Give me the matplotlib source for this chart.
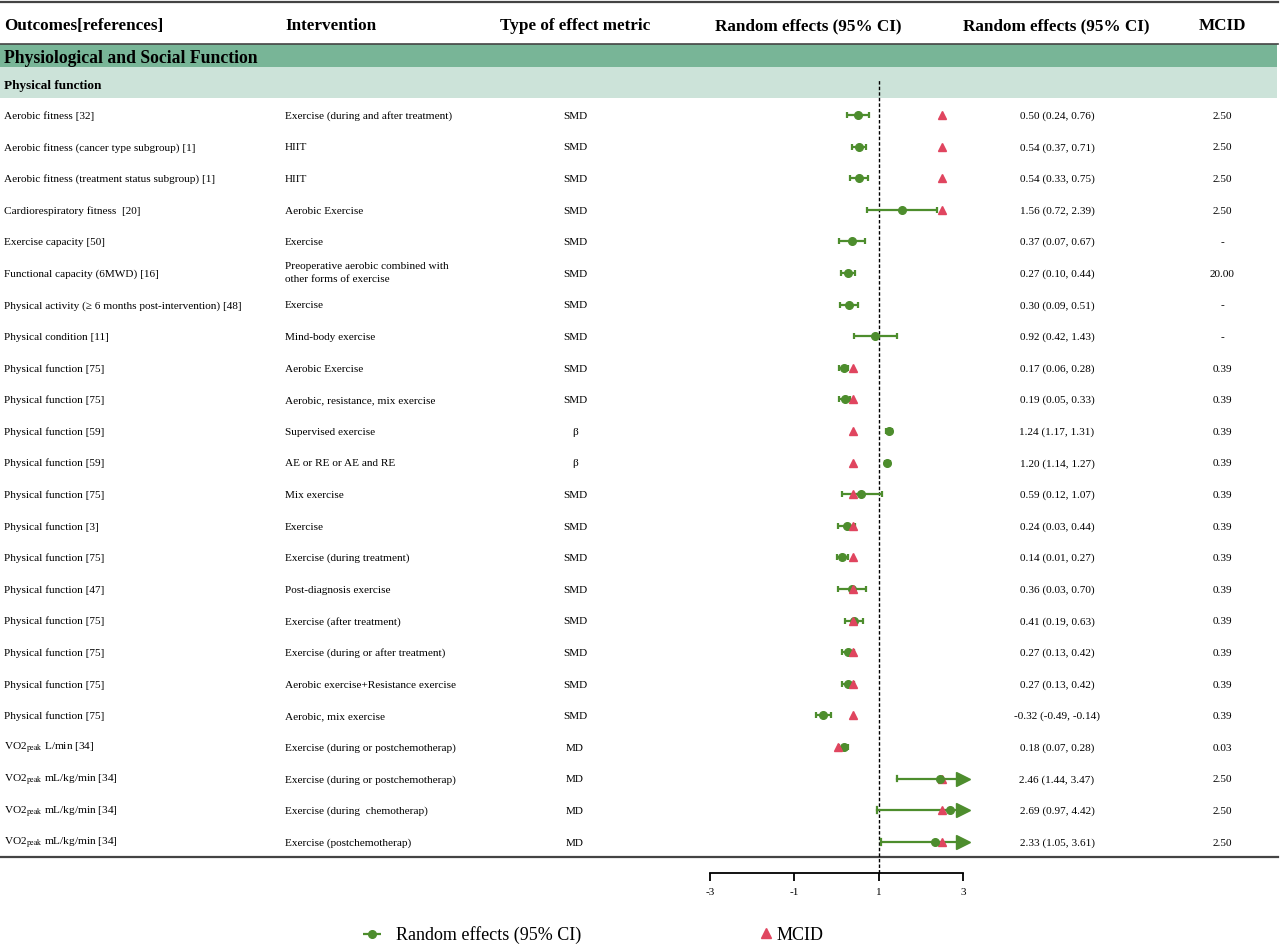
import matplotlib
matplotlib.use('Agg')
import matplotlib.pyplot as plt
from matplotlib.lines import Line2D
import numpy as np

plt.rcParams['font.family'] = ['Liberation Serif', 'DejaVu Serif']
plt.rcParams['mathtext.fontset'] = 'stix'
plt.rcParams['axes.unicode_minus'] = False

# ---------------- data ----------------
headers = ["Outcomes[references]", "Intervention", "Type of effect metric",
           "Random effects (95% CI)", "Random effects (95% CI)", "MCID"]
section_title = "Physiological and Social Function"
subsection_title = "Physical function"

outcomes = [
    "Aerobic fitness [32]",
    "Aerobic fitness (cancer type subgroup) [1]",
    "Aerobic fitness (treatment status subgroup) [1]",
    "Cardiorespiratory fitness  [20]",
    "Exercise capacity [50]",
    "Functional capacity (6MWD) [16]",
    "Physical activity (\u2265 6 months post-intervention) [48]",
    "Physical condition [11]",
    "Physical function [75]",
    "Physical function [75]",
    "Physical function [59]",
    "Physical function [59]",
    "Physical function [75]",
    "Physical function [3]",
    "Physical function [75]",
    "Physical function [47]",
    "Physical function [75]",
    "Physical function [75]",
    "Physical function [75]",
    "Physical function [75]",
    r"VO2$_{\mathrm{peak}}$ L/min [34]",
    r"VO2$_{\mathrm{peak}}$ mL/kg/min [34]",
    r"VO2$_{\mathrm{peak}}$ mL/kg/min [34]",
    r"VO2$_{\mathrm{peak}}$ mL/kg/min [34]",
]
interventions = [
    "Exercise (during and after treatment)",
    "HIIT",
    "HIIT",
    "Aerobic Exercise",
    "Exercise",
    "Preoperative aerobic combined with\nother forms of exercise",
    "Exercise",
    "Mind-body exercise",
    "Aerobic Exercise",
    "Aerobic, resistance, mix exercise",
    "Supervised exercise",
    "AE or RE or AE and RE",
    "Mix exercise",
    "Exercise",
    "Exercise (during treatment)",
    "Post-diagnosis exercise",
    "Exercise (after treatment)",
    "Exercise (during or after treatment)",
    "Aerobic exercise+Resistance exercise",
    "Aerobic, mix exercise",
    "Exercise (during or postchemotherap)",
    "Exercise (during or postchemotherap)",
    "Exercise (during  chemotherap)",
    "Exercise (postchemotherap)",
]
metrics = ["SMD"] * 10 + ["\u03b2", "\u03b2"] + ["SMD"] * 8 + ["MD"] * 4
est = [0.50, 0.54, 0.54, 1.56, 0.37, 0.27, 0.30, 0.92, 0.17, 0.19, 1.24, 1.20,
       0.59, 0.24, 0.14, 0.36, 0.41, 0.27, 0.27, -0.32, 0.18, 2.46, 2.69, 2.33]
lo = [0.24, 0.37, 0.33, 0.72, 0.07, 0.10, 0.09, 0.42, 0.06, 0.05, 1.17, 1.14,
      0.12, 0.03, 0.01, 0.03, 0.19, 0.13, 0.13, -0.49, 0.07, 1.44, 0.97, 1.05]
hi = [0.76, 0.71, 0.75, 2.39, 0.67, 0.44, 0.51, 1.43, 0.28, 0.33, 1.31, 1.27,
      1.07, 0.44, 0.27, 0.70, 0.63, 0.42, 0.42, -0.14, 0.28, 3.47, 4.42, 3.61]
mcid_labels = ["2.50", "2.50", "2.50", "2.50", "-", "20.00", "-", "-",
               "0.39", "0.39", "0.39", "0.39", "0.39", "0.39", "0.39", "0.39",
               "0.39", "0.39", "0.39", "0.39", "0.03", "2.50", "2.50", "2.50"]
xticks = [-3, -1, 1, 3]
ref_line = 1
axis_min, axis_max = -3, 3

# ---------------- styling / layout ----------------
W, H = 1280, 946
GREEN = '#4d8d2d'
RED = '#e0455f'
DARK_BAND = '#78b597'
LIGHT_BAND = '#cce3d9'
LINEC = '#444444'
row_y0, row_dy = 115, 31.6
n = len(outcomes)

fig = plt.figure(figsize=(W / 100, H / 100), dpi=100)
bg = fig.add_axes([0, 0, 1, 1])
bg.set_xlim(0, W)
bg.set_ylim(H, 0)
bg.axis('off')

# lines & bands
bg.plot([0, W - 2], [2, 2], color=LINEC, lw=1.6)
bg.add_patch(plt.Rectangle((0, 44), W - 3, 23, color=DARK_BAND, lw=0))
bg.plot([0, W - 2], [44, 44], color=LINEC, lw=1.2)
bg.add_patch(plt.Rectangle((0, 67), W - 3, 31, color=LIGHT_BAND, lw=0))
bg.plot([0, W - 2], [857, 857], color=LINEC, lw=1.6)

VA = 'baseline'
hfs = 12.3
hb = 25 + 5.5
bg.text(4, hb, headers[0], fontsize=hfs, fontweight='bold', va=VA, ha='left')
bg.text(285, hb, headers[1], fontsize=hfs, fontweight='bold', va=VA, ha='left')
bg.text(575, hb, headers[2], fontsize=hfs, fontweight='bold', va=VA, ha='center')
bg.text(808, hb, headers[3], fontsize=hfs, fontweight='bold', va=VA, ha='center')
bg.text(1056, hb, headers[4], fontsize=hfs, fontweight='bold', va=VA, ha='center')
bg.text(1222, hb, headers[5], fontsize=hfs, fontweight='bold', va=VA, ha='center')

bg.text(4, 57 + 6, section_title, fontsize=12.7, fontweight='bold', va=VA, ha='left')
bg.text(4, 84 + 4.5, subsection_title, fontsize=9.5, fontweight='bold', va=VA, ha='left')

rfs = 8.1
boff = 3.8
for i in range(n):
    y = row_y0 + i * row_dy
    bg.text(4, y + boff, outcomes[i], fontsize=rfs, va=VA, ha='left')
    if '\n' in interventions[i]:
        bg.text(285, y, interventions[i], fontsize=rfs, va='center', ha='left', linespacing=1.45)
    else:
        bg.text(285, y + boff, interventions[i], fontsize=rfs, va=VA, ha='left')
    bg.text(575, y + boff, metrics[i], fontsize=rfs, va=VA, ha='center')
    bg.text(1057, y + boff, f"{est[i]:.2f} ({lo[i]:.2f}, {hi[i]:.2f})", fontsize=rfs, va=VA, ha='center')
    bg.text(1222, y + boff, mcid_labels[i], fontsize=rfs, va=VA, ha='center')

# ---------------- forest axes ----------------
px_per_unit = (963 - 710) / 6.0
xl = (-3.0, 3.4)
ax_left_px = 710
ax_w_px = (xl[1] - xl[0]) * px_per_unit
ax_top_px, ax_bot_px = 80, 873
ax = fig.add_axes([ax_left_px / W, 1 - ax_bot_px / H, ax_w_px / W, (ax_bot_px - ax_top_px) / H])
ax.patch.set_alpha(0)
ax.set_xlim(*xl)
ax.set_ylim((ax_bot_px - row_y0) / row_dy, (ax_top_px - row_y0) / row_dy)

ax.axvline(ref_line, color='black', lw=1.0, ls=(0, (2.5, 1.5)), zorder=1)

rows = np.arange(n)
est_a, lo_a, hi_a = np.array(est), np.array(lo), np.array(hi)
capped = hi_a > axis_max
hi_draw = np.where(capped, axis_max - 0.05, hi_a)

for i in rows:
    if capped[i]:
        ax.plot([lo_a[i], hi_draw[i]], [i, i], color=GREEN, lw=1.6, zorder=2)
        ax.plot([lo_a[i], lo_a[i]], [i - 0.09, i + 0.09], color=GREEN, lw=1.6, zorder=2)
        ax.plot([axis_max], [i], marker='>', color=GREEN, ms=9.5, mec=GREEN, zorder=2)
        ax.plot([est_a[i]], [i], 'o', color=GREEN, ms=5.5, zorder=4)
    else:
        ax.errorbar(est_a[i], i, xerr=[[est_a[i] - lo_a[i]], [hi_a[i] - est_a[i]]],
                    fmt='o', color=GREEN, ms=5.5, elinewidth=1.6, capsize=2.2, capthick=1.6, zorder=2)

for i in rows:
    try:
        m = float(mcid_labels[i])
    except ValueError:
        continue
    if xl[0] <= m <= xl[1]:
        ax.plot([m], [i], '^', color=RED, ms=5.5, mec=RED, zorder=3)

for s in ['top', 'right', 'left']:
    ax.spines[s].set_visible(False)
ax.spines['bottom'].set_bounds(axis_min, axis_max)
ax.spines['bottom'].set_linewidth(1.3)
ax.set_yticks([])
ax.set_xticks(xticks)
ax.set_xticklabels([str(t) for t in xticks], fontsize=8)
ax.tick_params(axis='x', direction='out', length=6, width=1.3, pad=5)

# ---------------- legend ----------------
h1 = ax.errorbar([], [], xerr=[], fmt='o', color=GREEN, ms=5.5, elinewidth=1.6, capsize=2.2, capthick=1.6)
h2 = Line2D([], [], ls='none', marker='^', color=RED, ms=7)
fig.legend(handles=[h1], labels=["Random effects (95% CI)"], loc='center left',
           bbox_to_anchor=(360 / W, 1 - 935 / H), frameon=False, fontsize=13,
           borderpad=0, borderaxespad=0, handlelength=1.3, handletextpad=0.7)
fig.legend(handles=[h2], labels=["MCID"], loc='center left',
           bbox_to_anchor=(757 / W, 1 - 935 / H), frameon=False, fontsize=13,
           borderpad=0, borderaxespad=0, handlelength=1.0, handletextpad=0.1)

fig.savefig('out.png', dpi=100)
